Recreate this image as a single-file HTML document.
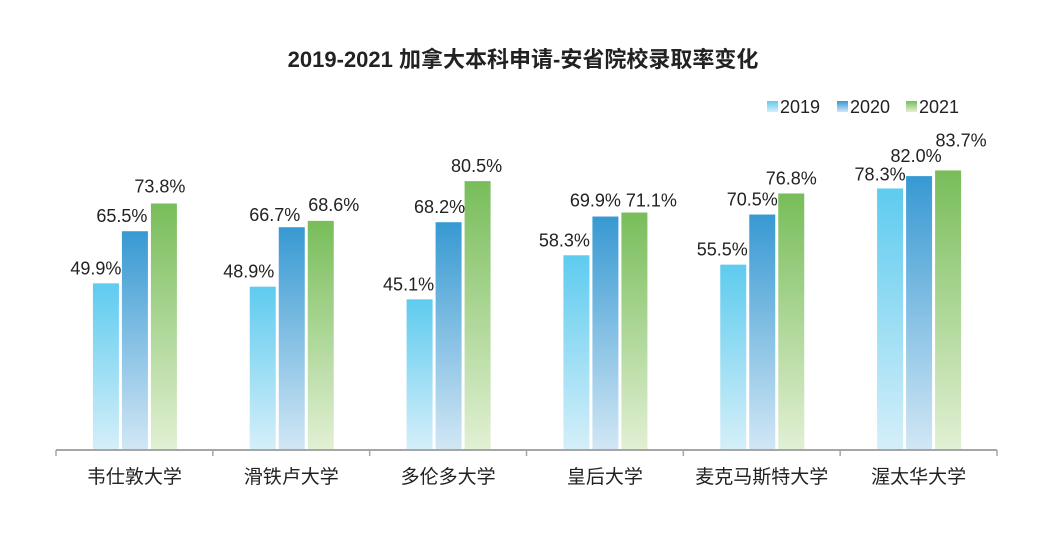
<!DOCTYPE html>
<html><head><meta charset="utf-8">
<style>
body{margin:0;background:#fff;}
svg{display:block;font-family:"Liberation Sans","Noto Sans CJK SC",sans-serif;}
</style></head>
<body>
<svg id="chart" width="1049" height="552">
<defs>
<linearGradient id="g0" x1="0" y1="0" x2="0" y2="1"><stop offset="0" stop-color="#5ecbef"/><stop offset="1" stop-color="#d5eff9"/></linearGradient>
<linearGradient id="g1" x1="0" y1="0" x2="0" y2="1"><stop offset="0" stop-color="#3799d2"/><stop offset="1" stop-color="#d2e7f5"/></linearGradient>
<linearGradient id="g2" x1="0" y1="0" x2="0" y2="1"><stop offset="0" stop-color="#78bd5a"/><stop offset="1" stop-color="#e2f0d4"/></linearGradient>
</defs>
<text x="523" y="67" text-anchor="middle" font-size="22" font-weight="bold" fill="#222">2019-2021 加拿大本科申请-安省院校录取率变化</text>
<g id="legend"></g>
<g id="bars"></g>
<g id="labels"></g>
<g id="axis"></g>
</svg>
<script>
const categories=["韦仕敦大学","滑铁卢大学","多伦多大学","皇后大学","麦克马斯特大学","渥太华大学"];
const seriesNames=["2019","2020","2021"];
const s2019=[49.9,48.9,45.1,58.3,55.5,78.3];
const s2020=[65.5,66.7,68.2,69.9,70.5,82.0];
const s2021=[73.8,68.6,80.5,71.1,76.8,83.7];
const series=[s2019,s2020,s2021];
// label nudges to avoid overlap, per series per category
const labelShift=[[-10,-14,-11,-12,-11,-10],[-13,-17,-9,-10,-10,-3],[-4,13,-1,17,0,13]];
const labelLift=[[9,9,9,9,9,8],[9,6,9,10,9,14],[11,10,9,6,9,24]];
const NS="http://www.w3.org/2000/svg";
const x0=56,x1=997,base=450,pxPer=3.34;
const bw=(x1-x0)/categories.length;
const y=v=>base-v*pxPer;
const xc=i=>x0+bw*i+bw/2;
function mk(t,a,p){const e=document.createElementNS(NS,t);for(const k in a)e.setAttribute(k,a[k]);p.appendChild(e);return e;}
const bars=document.getElementById('bars'),labels=document.getElementById('labels'),axis=document.getElementById('axis'),legend=document.getElementById('legend');
categories.forEach((c,i)=>{
  series.forEach((s,j)=>{
    const bx=xc(i)-41.5+j*29;
    const r=mk('rect',{x:bx,y:y(s[i]),width:26,height:base-y(s[i]),fill:`url(#g${j})`},bars);
    
    
    const t=mk('text',{x:bx+13+labelShift[j][i],y:y(s[i])-labelLift[j][i],'text-anchor':'middle','font-size':18,fill:'#222'},labels);
    t.textContent=s[i].toFixed(1)+'%';
    
    
  });
  const lt=mk('text',{x:xc(i),y:483,'text-anchor':'middle','font-size':19,fill:'#222'},axis);
  lt.textContent=c;
  
  
});
const al=mk('line',{x1:x0,x2:x1,y1:base,y2:base,stroke:'#a6a6a6','stroke-width':2},axis);


for(let i=0;i<=categories.length;i++){
  const tk=mk('line',{x1:x0+bw*i,x2:x0+bw*i,y1:base,y2:base+6,stroke:'#a6a6a6','stroke-width':1.5},axis);
  
  
}
const lx=[767,837,906];
seriesNames.forEach((n,j)=>{
  const r=mk('rect',{x:lx[j],y:101,width:11,height:11,fill:`url(#g${j})`},legend);
  
  
  const t=mk('text',{x:lx[j]+13,y:113,'font-size':18,fill:'#222'},legend);
  t.textContent=n;
  
  
});
</script>
</body></html>
